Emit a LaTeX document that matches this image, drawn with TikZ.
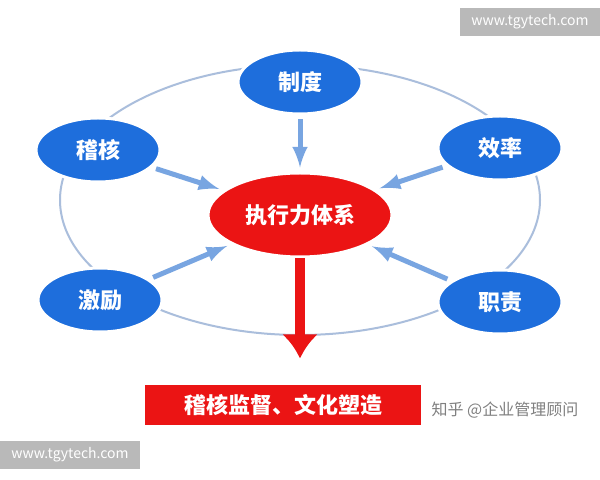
\documentclass[tikz,border=0pt]{standalone}
\usepackage{fontspec}
\setmainfont{Noto Sans CJK SC}
\usetikzlibrary{shapes.geometric}
\usetikzlibrary{positioning}
\usetikzlibrary{arrows.meta}
\definecolor{nodeblue}{RGB}{30,110,220}
\definecolor{arrowblue}{RGB}{120,165,225}
\definecolor{mainred}{RGB}{235,20,20}
\definecolor{ringgray}{RGB}{170,190,220}

\begin{document}
\begin{tikzpicture}
[x=0.5pt,y=-0.5pt,every node/.style={font=\bfseries\fontsize{11}{13}\selectfont},
  outer/.style = {ellipse,fill=nodeblue,draw=white,line width=1.5pt,text=white,
        minimum width=62pt,minimum height=32pt},
  core/.style = {ellipse,fill=mainred,draw=white,line width=1.5pt,text=white,
        minimum width=92pt,minimum height=42pt},
  inarrow/.style = {-latex,arrowblue,line width=2.5pt,shorten >=2pt,shorten <=2pt},
  urlbox/.style = {fill=gray!55,text=white,font=\fontsize{7}{8}\selectfont,
        minimum width=70pt,minimum height=14pt}]
\useasboundingbox[fill=white] (0,0) rectangle (600,480);

\draw[ringgray,line width=1pt] (300,200) ellipse [x radius=240,y radius=135];

\node[core] (system) at (300,215) {执行力体系};
\node[outer] (rules) at (300,82) {制度};
\node[outer] (audit) at (98,150) {稽核};
\node[outer] (effic) at (500,148) {效率};
\node[outer] (incent) at (100,300) {激励};
\node[outer] (duty) at (500,302) {职责};

\draw[inarrow] (rules) -- (system);
\draw[inarrow] (audit) -- (system);
\draw[inarrow] (effic) -- (system);
\draw[inarrow] (incent) -- (system);
\draw[inarrow] (duty) -- (system);

\node[fill=mainred,text=white,minimum width=138pt,minimum height=20pt,
      anchor=west] (result) at (145,405) {稽核监督、文化塑造};
\draw[mainred,line width=5pt,-{Latex[length=12pt,width=18pt]}] (system.south) -- ++(0,100);

\node[font=\fontsize{8}{9}\selectfont,text=gray] (zhihu) at (505,410) {知乎 @企业管理顾问};
\node[urlbox] (url1) at (530,22) {www.tgytech.com};
\node[urlbox] (url2) at (70,455) {www.tgytech.com};
\end{tikzpicture}
\end{document}
